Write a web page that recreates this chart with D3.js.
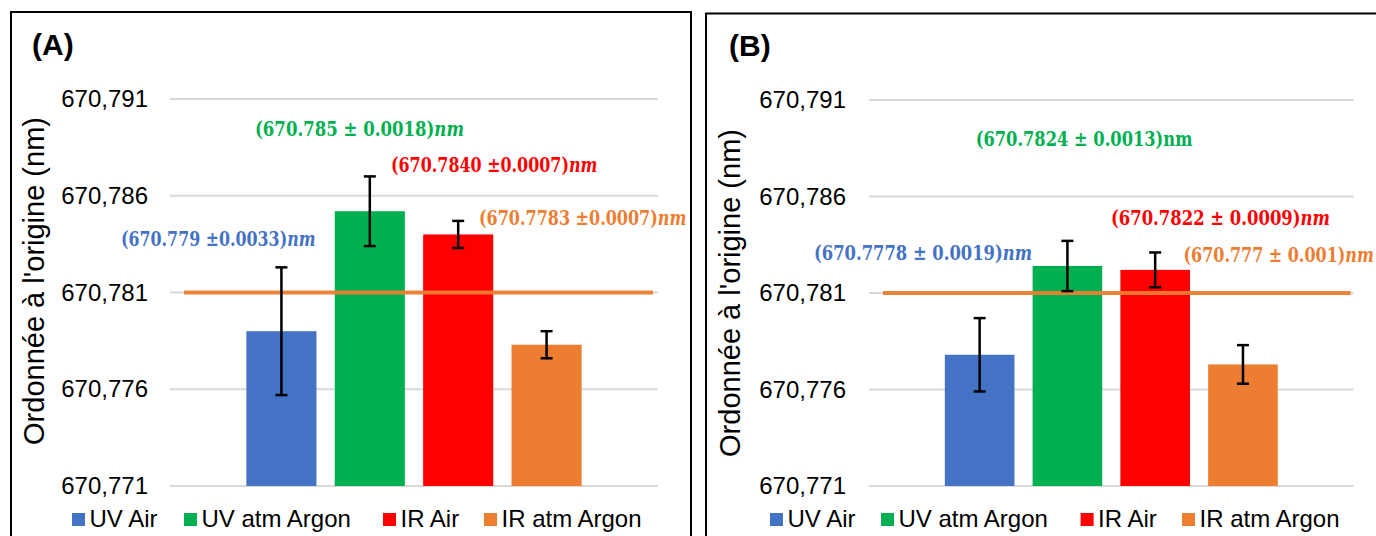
<!DOCTYPE html>
<html><head><meta charset="utf-8">
<script src="https://cdn.jsdelivr.net/npm/d3@7"></script>
<style>body{margin:0;background:#fff} svg{display:block}</style>
</head><body><svg id="c" width="1376" height="536"></svg>
<script>
// ---------- DATA ----------
const categories = ["UV Air", "UV atm Argon", "IR Air", "IR atm Argon"];
const colors = ["#4472C4", "#00B050", "#FF0000", "#ED7D31"];
const panelTitles = ["(A)", "(B)"];
const valuesA = [670.7790, 670.7852, 670.7840, 670.7783];
const errorsA = [0.0033, 0.0018, 0.0007, 0.0007];
const valuesB = [670.7778, 670.7824, 670.7822, 670.7773];
const errorsB = [0.0019, 0.0013, 0.0009, 0.0010];
const referenceValue = 670.781;
const yTicks = [670.771, 670.776, 670.781, 670.786, 670.791];
const yDomain = [670.771, 670.791];
const yAxisTitle = "Ordonnée à l'origine (nm)";
const labelTextsA = ["(670.779 ±0.0033)", "(670.785 ± 0.0018)", "(670.7840 ±0.0007)", "(670.7783 ±0.0007)"];
const labelTextsB = ["(670.7778 ± 0.0019)", "(670.7824 ± 0.0013)", "(670.7822 ± 0.0009)", "(670.777 ± 0.001)"];
const labelUnit = "nm";

// ---------- LAYOUT ----------
const panels = [
  { values: valuesA, errors: errorsA, labels: labelTextsA, title: panelTitles[0],
    frame: [11, 12, 691, 560], titlePos: [32, 55],
    plot: { left: 170, right: 658, top: 99, bottom: 486 }, tickRight: 148,
    axisTitlePos: [33.5, 281], legendX: 72, legendOffsets: [0, 112, 311, 412], legendY: 513,
    lineInset: [14, 5],
    labelPos: [ {x0:121, x1:315.6, cy:239}, {x0:255, x1:464, cy:129}, {x0:391, x1:597.5, cy:165}, {x0:479, x1:686.5, cy:218} ] },
  { values: valuesB, errors: errorsB, labels: labelTextsB, title: panelTitles[1],
    frame: [706, 13.5, 1400, 560], titlePos: [729, 56],
    plot: { left: 869, right: 1353.6, top: 100, bottom: 486 }, tickRight: 846,
    axisTitlePos: [729.5, 293], legendX: 770, legendOffsets: [0, 111, 310.6, 412], legendY: 513,
    lineInset: [14, 3],
    labelPos: [ {x0:814, x1:1032, cy:252.7}, {x0:975.7, x1:1192.5, cy:139, upright:true}, {x0:1111, x1:1330, cy:217.7}, {x0:1183.5, x1:1374, cy:255} ] }
];

const SANS = "'Liberation Sans', Arial, sans-serif";
const SERIF = "'DejaVu Serif', 'Liberation Serif', serif";
const locale = d3.formatLocale({decimal: ",", thousands: " ", grouping: [3], currency: ["", ""]});
const fmt = locale.format(".3f");
const svg = d3.select("#c");

panels.forEach(p => {
  const g = svg.append("g");
  const [fx0, fy0, fx1, fy1] = p.frame;
  g.append("rect").attr("x", fx0).attr("y", fy0).attr("width", fx1 - fx0).attr("height", fy1 - fy0)
    .attr("fill", "#fff").attr("stroke", "#000").attr("stroke-width", 2);

  const y = d3.scaleLinear().domain(yDomain).range([p.plot.bottom, p.plot.top]);
  const plotW = p.plot.right - p.plot.left;
  const groupW = plotW * 0.687;
  const gx0 = p.plot.left + (plotW - groupW) / 2;
  const x = d3.scaleBand().domain(categories).range([gx0, gx0 + groupW]).paddingInner(0.207).paddingOuter(0);

  // gridlines
  g.append("g").selectAll("line").data(yTicks).join("line")
    .attr("x1", p.plot.left).attr("x2", p.plot.right)
    .attr("y1", d => y(d)).attr("y2", d => y(d))
    .attr("stroke", "#D9D9D9").attr("stroke-width", 2);

  // y axis tick labels via d3 axis
  const axis = d3.axisLeft(y).tickValues(yTicks).tickFormat(fmt).tickSize(0).tickPadding(0);
  const ag = g.append("g").attr("transform", `translate(${p.tickRight},0)`).call(axis);
  ag.select(".domain").remove();
  ag.selectAll("text").attr("font-family", SANS).attr("font-size", 24).attr("fill", "#000");

  // axis title
  g.append("text").attr("transform", `translate(${p.axisTitlePos[0]},${p.axisTitlePos[1]}) rotate(-90)`)
    .attr("text-anchor", "middle").attr("dy", "0.35em")
    .attr("font-family", SANS).attr("font-size", 29).attr("fill", "#000").text(yAxisTitle);

  // panel title
  g.append("text").attr("x", p.titlePos[0]).attr("y", p.titlePos[1])
    .attr("font-family", SANS).attr("font-weight", "bold").attr("font-size", 30).attr("fill", "#000").text(p.title);

  const data = categories.map((c, i) => ({ c, v: p.values[i], e: p.errors[i], color: colors[i] }));

  // bars
  g.append("g").selectAll("rect").data(data).join("rect")
    .attr("x", d => x(d.c)).attr("width", x.bandwidth())
    .attr("y", d => y(d.v)).attr("height", d => y(yDomain[0]) - y(d.v))
    .attr("fill", d => d.color);

  // reference line
  g.append("line").attr("x1", p.plot.left + p.lineInset[0]).attr("x2", p.plot.right - p.lineInset[1])
    .attr("y1", y(referenceValue)).attr("y2", y(referenceValue))
    .attr("stroke", "#ED7D31").attr("stroke-width", 4).attr("stroke-opacity", 0.95);

  // error bars
  const eg = g.append("g").attr("stroke", "#000").attr("stroke-width", 2.5);
  data.forEach(d => {
    const cx = x(d.c) + x.bandwidth() / 2;
    const yt = y(d.v + d.e), yb = y(d.v - d.e);
    eg.append("line").attr("x1", cx).attr("x2", cx).attr("y1", yt).attr("y2", yb);
    eg.append("line").attr("x1", cx - 6).attr("x2", cx + 6).attr("y1", yt).attr("y2", yt);
    eg.append("line").attr("x1", cx - 6).attr("x2", cx + 6).attr("y1", yb).attr("y2", yb);
  });

  // value labels
  data.forEach((d, i) => {
    const lp = p.labelPos[i];
    const t = g.append("text").attr("font-family", SERIF).attr("font-weight", "bold")
      .style("font-size", "21px").attr("fill", d.color);
    t.append("tspan").text(p.labels[i]);
    t.append("tspan").attr("font-style", lp.upright ? "normal" : "italic").text(labelUnit);
    const w = t.node().getComputedTextLength();
    const s = (lp.x1 - lp.x0) / w;
    t.attr("transform", `translate(${lp.x0},${lp.cy + 7}) scale(${s},1)`);
  });

  // legend
  const lg = g.append("g");
  data.forEach((d, i) => {
    const lx = p.legendX + p.legendOffsets[i];
    lg.append("rect").attr("x", lx).attr("y", p.legendY).attr("width", 13).attr("height", 13).attr("fill", d.color);
    lg.append("text").attr("x", lx + 17.5).attr("y", p.legendY + 14)
      .attr("font-family", SANS).attr("font-size", 24).attr("fill", "#000").text(d.c);
  });
});
</script>
</body></html>
